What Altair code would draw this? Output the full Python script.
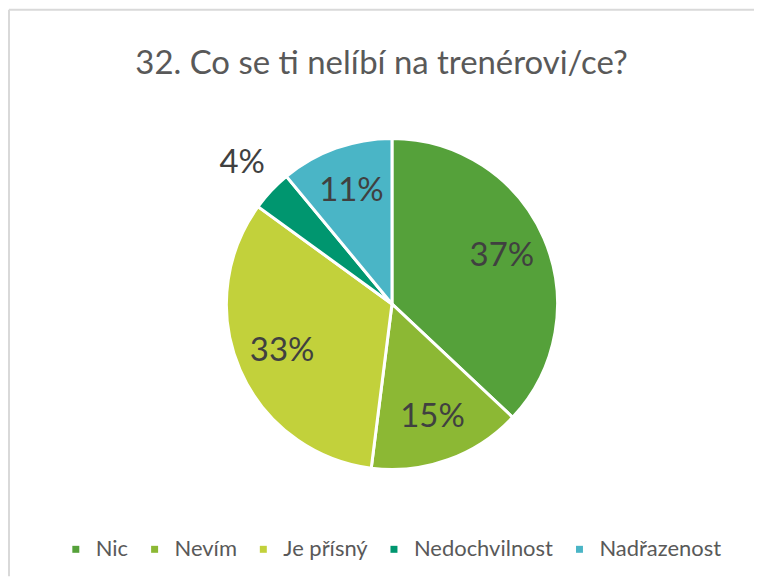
import altair as alt
import pandas as pd

categories = ["Nic", "Nevím", "Je přísný", "Nedochvilnost", "Nadřazenost"]
values = [37, 15, 33, 4, 11]
colors = ["#55a13a", "#8cb834", "#c2d13b", "#00966f", "#4ab5c6"]

df = pd.DataFrame({"cat": categories, "pct": values, "idx": list(range(len(categories)))})

W, H = 747, 568
CX, CY = 384, 295

base = alt.Chart(df).encode(
    theta=alt.Theta("pct:Q", stack=True),
    order=alt.Order("idx:Q"),
    x=alt.value(CX),
    y=alt.value(CY),
)

arcs = base.mark_arc(outerRadius=166, stroke="white", strokeWidth=3).encode(
    color=alt.Color(
        "cat:N",
        sort=categories,
        scale=alt.Scale(domain=categories, range=colors),
        legend=alt.Legend(
            title=None,
            orient="none",
            direction="horizontal",
            legendX=56,
            legendY=530,
            padding=0,
            symbolType="square",
            symbolSize=49,
            symbolStrokeWidth=0,
            labelFontSize=22,
            labelFont="Lato",
            labelColor="#595959",
            labelOffset=9,
            columnPadding=15,
        ),
    )
)

labels_in = base.transform_calculate(
    txt="datum.pct >= 5 ? datum.pct + '%' : ''",
).mark_text(fontSize=33, font="Lato", color="#404040", radius=120).encode(
    text="txt:N",
)

labels_out = base.transform_calculate(
    txt="datum.pct < 5 ? datum.pct + '%' : ''",
).mark_text(fontSize=33, font="Lato", color="#404040", radius=206).encode(
    text="txt:N",
)

frame_src = alt.Chart(alt.Data(values=[{"k": 1}]))
top_rule = frame_src.mark_rule(color="#d9d9d9", strokeWidth=2).encode(
    x=alt.value(0), x2=alt.value(W), y=alt.value(0)
)
left_rule = frame_src.mark_rule(color="#d9d9d9", strokeWidth=2).encode(
    x=alt.value(0), y=alt.value(0), y2=alt.value(H)
)

chart = alt.layer(top_rule, left_rule, arcs, labels_in, labels_out).properties(
    width=W,
    height=H,
    padding=0,
    title=alt.TitleParams(
        "32. Co se ti nelíbí na trenérovi/ce?",
        fontSize=33,
        font="Lato",
        fontWeight="normal",
        color="#595959",
        anchor="middle",
        offset=-72,
    ),
).configure(background="white").configure_view(stroke=None)

chart.save("out.html", embed_options={"renderer": "svg", "actions": False})
